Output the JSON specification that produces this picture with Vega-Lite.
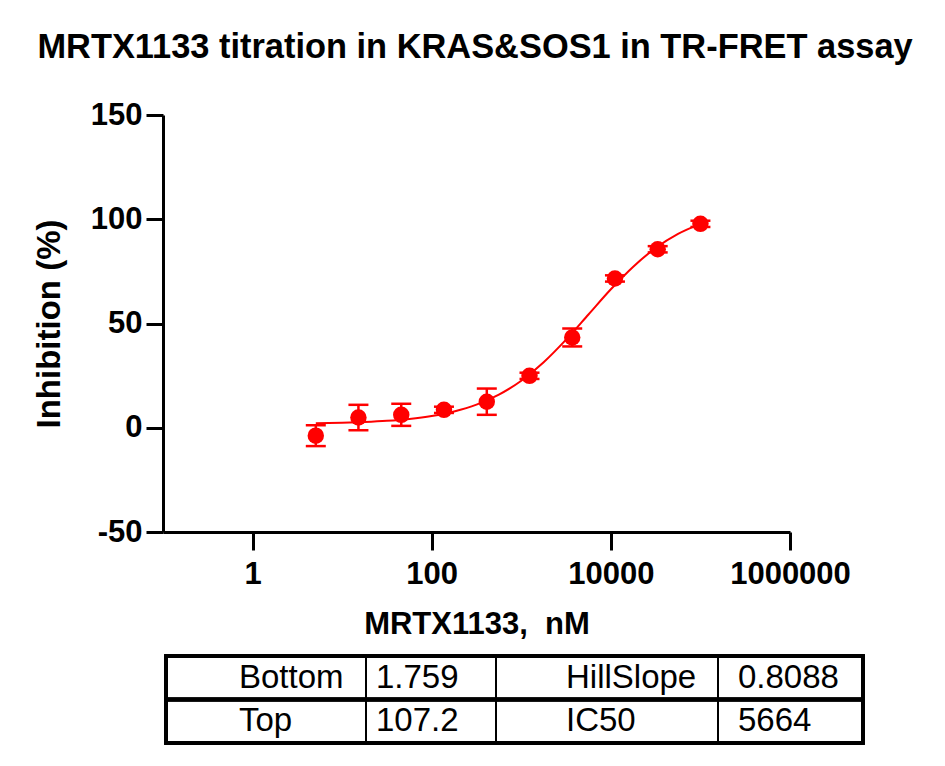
{
  "$schema": "https://vega.github.io/schema/vega-lite/v6.json",
  "description": "MRTX1133 dose-response in KRAS&SOS1 TR-FRET assay, with fit parameters table.",
  "padding": {"left": 33, "top": 29, "right": 5, "bottom": 5},
  "title": {
    "text": "MRTX1133 titration in KRAS&SOS1 in TR-FRET assay",
    "fontSize": 34.4,
    "fontWeight": "bold",
    "anchor": "middle",
    "offset": 34,
    "dx": 26
  },
  "config": {
    "font": "Liberation Sans",
    "view": {"stroke": null}
  },
  "spacing": 15,
  "datasets": {
    "points": [
      {"conc": 5.08, "inhibition": -3.8, "sd": 5.0},
      {"conc": 15.2, "inhibition": 4.9, "sd": 6.1},
      {"conc": 45.7, "inhibition": 6.2, "sd": 5.3},
      {"conc": 137, "inhibition": 8.6, "sd": 1.5},
      {"conc": 412, "inhibition": 12.5, "sd": 6.3},
      {"conc": 1235, "inhibition": 24.9, "sd": 1.5},
      {"conc": 3704, "inhibition": 43.3, "sd": 4.3},
      {"conc": 11111, "inhibition": 71.6, "sd": 1.5},
      {"conc": 33333, "inhibition": 85.6, "sd": 1.5},
      {"conc": 100000, "inhibition": 97.8, "sd": 1.5}
    ],
    "fit": [
      {"conc": 5.08, "inhibition": 2.12},
      {"conc": 10, "inhibition": 2.38},
      {"conc": 17.78, "inhibition": 2.75},
      {"conc": 31.62, "inhibition": 3.32},
      {"conc": 56.23, "inhibition": 4.23},
      {"conc": 100, "inhibition": 5.64},
      {"conc": 177.8, "inhibition": 7.81},
      {"conc": 316.2, "inhibition": 11.07},
      {"conc": 562.3, "inhibition": 15.87},
      {"conc": 1000, "inhibition": 22.57},
      {"conc": 1778, "inhibition": 31.44},
      {"conc": 3162, "inhibition": 42.28},
      {"conc": 5623, "inhibition": 54.33},
      {"conc": 10000, "inhibition": 66.4},
      {"conc": 17783, "inhibition": 77.27},
      {"conc": 31623, "inhibition": 86.19},
      {"conc": 56234, "inhibition": 92.96},
      {"conc": 100000, "inhibition": 97.78}
    ],
    "params": [
      {"row": "r1", "col": 0, "colEnd": 1, "text": "Bottom"},
      {"row": "r1", "col": 1, "colEnd": 2, "text": "1.759"},
      {"row": "r1", "col": 2, "colEnd": 3, "text": "HillSlope"},
      {"row": "r1", "col": 3, "colEnd": 4, "text": "0.8088"},
      {"row": "r2", "col": 0, "colEnd": 1, "text": "Top"},
      {"row": "r2", "col": 1, "colEnd": 2, "text": "107.2"},
      {"row": "r2", "col": 2, "colEnd": 3, "text": "IC50"},
      {"row": "r2", "col": 3, "colEnd": 4, "text": "5664"}
    ]
  },
  "vconcat": [
    {
      "width": 627,
      "height": 417,
      "encoding": {
        "x": {
          "field": "conc",
          "type": "quantitative",
          "title": "MRTX1133,\u00a0\u00a0nM",
          "scale": {"type": "log", "domain": [0.1, 1000000], "nice": false},
          "axis": {
            "values": [1, 100, 10000, 1000000],
            "format": "d",
            "grid": false,
            "domainColor": "black",
            "domainWidth": 3,
            "tickColor": "black",
            "tickWidth": 3,
            "tickSize": 18,
            "labelFontSize": 31,
            "labelFontWeight": "bold",
            "labelColor": "black",
            "labelPadding": 9,
            "labelFlush": false,
            "titleFontSize": 31,
            "titleFontWeight": "bold",
            "titleColor": "black",
            "titlePadding": 20
          }
        },
        "y": {
          "field": "inhibition",
          "type": "quantitative",
          "title": "Inhibition (%)",
          "scale": {"domain": [-50, 150], "nice": false},
          "axis": {
            "values": [-50, 0, 50, 100, 150],
            "labelExpr": "replace(datum.label, '−', '-')",
            "grid": false,
            "domainColor": "black",
            "domainWidth": 3,
            "tickColor": "black",
            "tickWidth": 3,
            "tickSize": 17,
            "labelFontSize": 31,
            "labelFontWeight": "bold",
            "labelColor": "black",
            "labelPadding": 4,
            "labelFlush": false,
            "titleFontSize": 33,
            "titleFontWeight": "bold",
            "titleColor": "black",
            "titlePadding": 24
          }
        }
      },
      "layer": [
        {
          "data": {"name": "fit"},
          "mark": {"type": "line", "interpolate": "monotone", "color": "#ff0000", "strokeWidth": 2}
        },
        {
          "data": {"name": "points"},
          "mark": {
            "type": "errorbar",
            "color": "#ff0000",
            "opacity": 1,
            "rule": {"strokeWidth": 2.5},
            "ticks": {"size": 20, "thickness": 2.5}
          },
          "encoding": {
            "yError": {"field": "sd"}
          }
        },
        {
          "data": {"name": "points"},
          "mark": {"type": "circle", "color": "#ff0000", "opacity": 1, "size": 270}
        }
      ]
    },
    {
      "width": 700,
      "height": 87,
      "data": {"name": "params"},
      "encoding": {
        "y": {
          "field": "row",
          "type": "nominal",
          "scale": {"paddingInner": 0, "paddingOuter": 0},
          "axis": null
        }
      },
      "layer": [
        {
          "mark": {"type": "rect", "fill": "white", "stroke": "black", "strokeWidth": 2},
          "encoding": {
            "x": {
              "field": "col",
              "type": "quantitative",
              "scale": {"domain": [0, 1, 2, 3, 4], "range": [3, 203, 333, 555, 700]},
              "axis": null
            },
            "x2": {"field": "colEnd"}
          }
        },
        {
          "mark": {"type": "rect", "fill": null, "filled": false, "stroke": "black", "strokeWidth": 3.5},
          "encoding": {
            "x": {"datum": 0, "type": "quantitative", "scale": {"domain": [0, 4], "range": [3, 700]}, "axis": null},
            "x2": {"datum": 4}
          }
        },
        {
          "mark": {"type": "text", "align": "left", "baseline": "middle", "fontSize": 33, "color": "black"},
          "encoding": {
            "x": {
              "field": "col",
              "type": "quantitative",
              "scale": {"domain": [0, 1, 2, 3], "range": [76, 213, 403, 575]},
              "axis": null
            },
            "text": {"field": "text"}
          }
        }
      ],
      "resolve": {"scale": {"x": "independent"}}
    }
  ]
}
